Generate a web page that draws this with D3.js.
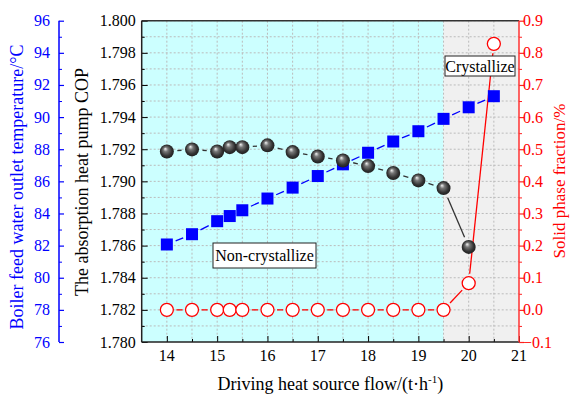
<!DOCTYPE html>
<html>
<head>
<meta charset="utf-8">
<script src="https://cdn.jsdelivr.net/npm/d3@7"></script>
<style>
body { margin: 0; background: #fff; }
text { font-family: "Liberation Serif", "Times New Roman", serif; }
</style>
</head>
<body>
<script>
var W = 570, H = 396;
var plot = {left: 141.7, right: 519, top: 20.7, bottom: 342};

// data
var flow = [14, 14.5, 15, 15.25, 15.5, 16, 16.5, 17, 17.5, 18, 18.5, 19, 19.5, 20, 20.5];
var waterTemp = [82.07, 82.71, 83.52, 83.84, 84.2, 84.93, 85.61, 86.33, 87.06, 87.78, 88.48, 89.12, 89.89, 90.61, 91.3];
var copFlow = [14, 14.5, 15, 15.25, 15.5, 16, 16.5, 17, 17.5, 18, 18.5, 19, 19.5, 20];
var cop = [1.79186, 1.79199, 1.79186, 1.79213, 1.79213, 1.79224, 1.79182, 1.79155, 1.7913, 1.79095, 1.79052, 1.79006, 1.78958, 1.78592];
var solidFrac = [0, 0, 0, 0, 0, 0, 0, 0, 0, 0, 0, 0, 0, 0.083, 0.828];

var xTicks = [14, 15, 16, 17, 18, 19, 20, 21];
var copTicks = [1.780, 1.782, 1.784, 1.786, 1.788, 1.790, 1.792, 1.794, 1.796, 1.798, 1.800];
var tempTicks = [76, 78, 80, 82, 84, 86, 88, 90, 92, 94, 96];
var fracTicks = [-0.1, 0, 0.1, 0.2, 0.3, 0.4, 0.5, 0.6, 0.7, 0.8, 0.9];
var crystalStart = 19.5;

var x = d3.scaleLinear().domain([13.5, 21]).range([plot.left, plot.right]);
var yCop = d3.scaleLinear().domain([1.780, 1.800]).range([plot.bottom, plot.top]);
var yTemp = d3.scaleLinear().domain([76, 96]).range([plot.bottom, plot.top]);
var yFrac = d3.scaleLinear().domain([-0.1, 0.9]).range([plot.bottom, plot.top]);

var svg = d3.select("body").append("svg")
    .attr("width", W)
    .attr("height", H);

var defs = svg.append("defs");
var grad = defs.append("radialGradient").attr("id", "ball")
    .attr("cx", "50%").attr("cy", "50%").attr("r", "55%")
    .attr("fx", "38%").attr("fy", "30%");
grad.append("stop").attr("offset", "0%").attr("stop-color", "#f4f4f4");
grad.append("stop").attr("offset", "30%").attr("stop-color", "#777");
grad.append("stop").attr("offset", "70%").attr("stop-color", "#333");
grad.append("stop").attr("offset", "100%").attr("stop-color", "#1a1a1a");

// background regions
svg.append("rect")
    .attr("x", x(13.5)).attr("y", plot.top)
    .attr("width", x(crystalStart) - x(13.5)).attr("height", plot.bottom - plot.top)
    .attr("fill", "#ccffff");
svg.append("rect")
    .attr("x", x(crystalStart)).attr("y", plot.top)
    .attr("width", x(21) - x(crystalStart)).attr("height", plot.bottom - plot.top)
    .attr("fill", "#f0f0f0");

// grid
var gridX = d3.range(14, 21, 0.5);
var gridY = d3.range(1.781, 1.8, 0.001);
svg.selectAll(".gx").data(gridX).enter().append("line")
    .attr("x1", function(d) { return x(d); }).attr("x2", function(d) { return x(d); })
    .attr("y1", plot.top).attr("y2", plot.bottom)
    .attr("stroke", "#bbbbbb").attr("stroke-width", 1).attr("stroke-dasharray", "2,2");
svg.selectAll(".gy").data(gridY).enter().append("line")
    .attr("y1", function(d) { return yCop(d); }).attr("y2", function(d) { return yCop(d); })
    .attr("x1", plot.left).attr("x2", plot.right)
    .attr("stroke", "#bbbbbb").attr("stroke-width", 1).attr("stroke-dasharray", "2,2");

// axes
var fmt3 = d3.format(".3f");
var fmt1 = d3.format(".1f");

svg.append("g").attr("transform", "translate(0," + plot.bottom + ")")
    .call(d3.axisTop(x).tickValues(xTicks).tickSize(6).tickFormat(""))
    .call(function(g) { g.select(".domain").remove(); });
svg.append("g").attr("transform", "translate(0," + plot.bottom + ")")
    .call(d3.axisTop(x).tickValues(d3.range(14.5, 21, 1)).tickSize(3).tickFormat(""))
    .call(function(g) { g.select(".domain").remove(); });
svg.selectAll(".xlab").data(xTicks).enter().append("text")
    .attr("x", function(d) { return x(d); }).attr("y", 361)
    .attr("text-anchor", "middle").attr("font-size", 16).attr("fill", "#000")
    .text(function(d) { return d; });

// COP axis (left, on plot)
svg.append("g").attr("transform", "translate(" + plot.left + ",0)")
    .call(d3.axisRight(yCop).tickValues(copTicks).tickSize(6).tickFormat(""))
    .call(function(g) { g.select(".domain").remove(); });
svg.append("g").attr("transform", "translate(" + plot.left + ",0)")
    .call(d3.axisRight(yCop).tickValues(d3.range(1.781, 1.8, 0.002)).tickSize(3).tickFormat(""))
    .call(function(g) { g.select(".domain").remove(); });
svg.selectAll(".clab").data(copTicks).enter().append("text")
    .attr("x", plot.left - 6).attr("y", function(d) { return yCop(d) + 5.5; })
    .attr("text-anchor", "end").attr("font-size", 16).attr("fill", "#000")
    .text(function(d) { return fmt3(d); });

// blue temperature axis
var bx = 59;
svg.append("line").attr("x1", bx).attr("x2", bx).attr("y1", plot.top).attr("y2", plot.bottom)
    .attr("stroke", "#0000ff").attr("stroke-width", 1.5);
svg.append("g").attr("transform", "translate(" + bx + ",0)")
    .call(d3.axisRight(yTemp).tickValues(tempTicks).tickSize(5).tickFormat(""))
    .call(function(g) { g.select(".domain").remove(); g.selectAll("line").attr("stroke", "#0000ff").attr("stroke-width", 1.2); });
svg.append("g").attr("transform", "translate(" + bx + ",0)")
    .call(d3.axisRight(yTemp).tickValues(d3.range(77, 96, 2)).tickSize(3).tickFormat(""))
    .call(function(g) { g.select(".domain").remove(); g.selectAll("line").attr("stroke", "#0000ff"); });
svg.selectAll(".tlab").data(tempTicks).enter().append("text")
    .attr("x", bx - 9).attr("y", function(d) { return yTemp(d) + 5.5; })
    .attr("text-anchor", "end").attr("font-size", 16).attr("fill", "#0000ff")
    .text(function(d) { return d; });

// red fraction axis
svg.append("g").attr("transform", "translate(" + plot.right + ",0)")
    .call(d3.axisRight(yFrac).tickValues(fracTicks).tickSize(5).tickFormat(""))
    .call(function(g) { g.select(".domain").remove(); g.selectAll("line").attr("stroke", "#ff2222").attr("stroke-width", 1.2); });
svg.append("g").attr("transform", "translate(" + plot.right + ",0)")
    .call(d3.axisRight(yFrac).tickValues(d3.range(-0.05, 0.9, 0.1)).tickSize(3).tickFormat(""))
    .call(function(g) { g.select(".domain").remove(); g.selectAll("line").attr("stroke", "#ff2222"); });
svg.selectAll(".flab").data(fracTicks).enter().append("text")
    .attr("x", plot.right + 4).attr("y", function(d) { return yFrac(d) + 5.5; })
    .attr("text-anchor", "start").attr("font-size", 16).attr("fill", "#ff0000")
    .text(function(d) { return fmt1(d); });

// frame
svg.append("line").attr("x1", plot.left).attr("x2", plot.right).attr("y1", plot.top).attr("y2", plot.top)
    .attr("stroke", "#333").attr("stroke-width", 1.5);
svg.append("line").attr("x1", plot.left).attr("x2", plot.right).attr("y1", plot.bottom).attr("y2", plot.bottom)
    .attr("stroke", "#222").attr("stroke-width", 1.5);
svg.append("line").attr("x1", plot.left).attr("x2", plot.left).attr("y1", plot.top).attr("y2", plot.bottom)
    .attr("stroke", "#222").attr("stroke-width", 1.5);
svg.append("line").attr("x1", plot.right).attr("x2", plot.right).attr("y1", plot.top).attr("y2", plot.bottom)
    .attr("stroke", "#ff3333").attr("stroke-width", 1.5);

// connecting lines with a gap around each symbol
function gapLines(xs, ys, yScale, gap, color) {
    var segs = [];
    for (var i = 0; i < xs.length - 1; i++) {
        var x1 = x(xs[i]), y1 = yScale(ys[i]), x2 = x(xs[i + 1]), y2 = yScale(ys[i + 1]);
        var len = Math.hypot(x2 - x1, y2 - y1);
        if (len <= 2 * gap) continue;
        var ux = (x2 - x1) / len, uy = (y2 - y1) / len;
        segs.push([x1 + ux * gap, y1 + uy * gap, x2 - ux * gap, y2 - uy * gap]);
    }
    svg.append("g").selectAll("line").data(segs).enter().append("line")
        .attr("x1", function(d) { return d[0]; }).attr("y1", function(d) { return d[1]; })
        .attr("x2", function(d) { return d[2]; }).attr("y2", function(d) { return d[3]; })
        .attr("stroke", color).attr("stroke-width", 1.3);
}

gapLines(copFlow, cop, yCop, 10.5, "#333");
gapLines(flow, waterTemp, yTemp, 9.5, "#0000ff");
gapLines(flow, solidFrac, yFrac, 9.5, "#ff0000");

// markers
svg.append("g").selectAll("circle").data(solidFrac).enter().append("circle")
    .attr("cx", function(d, i) { return x(flow[i]); })
    .attr("cy", function(d) { return yFrac(d); })
    .attr("r", 6.5).attr("fill", "#fff").attr("stroke", "#ff0000").attr("stroke-width", 1.3);

svg.append("g").selectAll("rect").data(waterTemp).enter().append("rect")
    .attr("x", function(d, i) { return x(flow[i]) - 6; })
    .attr("y", function(d) { return yTemp(d) - 6; })
    .attr("width", 12).attr("height", 12).attr("fill", "#0000ff");

svg.append("g").selectAll("circle").data(cop).enter().append("circle")
    .attr("cx", function(d, i) { return x(copFlow[i]); })
    .attr("cy", function(d) { return yCop(d); })
    .attr("r", 7).attr("fill", "url(#ball)");

// annotation boxes
function label(cx, cy, w, h, txt) {
    svg.append("rect").attr("x", cx).attr("y", cy).attr("width", w).attr("height", h)
        .attr("fill", "#fff").attr("stroke", "#222").attr("stroke-width", 1);
    svg.append("text").attr("x", cx + w / 2).attr("y", cy + h / 2 + 5.5)
        .attr("text-anchor", "middle").attr("font-size", 16).attr("fill", "#000").text(txt);
}
label(213, 243, 103, 25, "Non-crystallize");
label(445, 56, 70, 20, "Crystallize");

// axis titles
svg.append("text").attr("transform", "translate(" + 23 + "," + 187 + ") rotate(-90)")
    .attr("text-anchor", "middle").attr("font-size", 18).attr("fill", "#0000ff")
    .text("Boiler feed water outlet temperature/\u00b0C");
svg.append("text").attr("transform", "translate(" + 88 + "," + 182 + ") rotate(-90)")
    .attr("text-anchor", "middle").attr("font-size", 18).attr("fill", "#000")
    .text("The absorption heat pump COP");
svg.append("text").attr("transform", "translate(" + 565 + "," + 181 + ") rotate(-90)")
    .attr("text-anchor", "middle").attr("font-size", 17).attr("fill", "#ff0000")
    .text("Solid phase fraction/%");

var xt = svg.append("text").attr("x", (plot.left + plot.right) / 2).attr("y", 390)
    .attr("text-anchor", "middle").attr("font-size", 18).attr("fill", "#000");
xt.append("tspan").text("Driving heat source flow/(t\u00b7h");
xt.append("tspan").attr("font-size", 11).attr("dy", -7).text("-1");
xt.append("tspan").attr("dy", 7).text(")");
</script>
</body>
</html>
